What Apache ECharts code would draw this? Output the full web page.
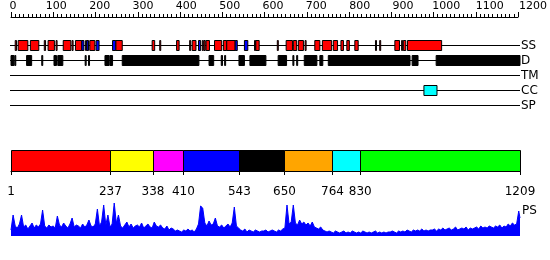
<!DOCTYPE html>
<html><head><meta charset="utf-8">
<script src="https://cdn.jsdelivr.net/npm/echarts@6/dist/echarts.min.js"></script>
<style>html,body{margin:0;padding:0;background:#fff}#c{width:550px;height:260px}</style>
</head><body><div id="c"></div>
<script>
// ---------- data ----------
const seqLength = 1209;
const rulerMax = 1200;
const trackNames = ['SS', 'D', 'TM', 'CC', 'SP'];
// secondary structure: [start, end, type]  H = helix, E = strand
const ssElements = [
  [11,14,'H'],[18,41,'H'],[47,67,'H'],[80,83,'H'],[89,104,'H'],[108,110,'H'],[125,143,'H'],[146,148,'H'],
  [154,169,'H'],[169,174,'E'],[178,180,'H'],[181,185,'E'],[188,200,'H'],[203,210,'E'],[242,250,'E'],[250,265,'H'],
  [336,342,'H'],[354,356,'H'],[394,400,'H'],[425,427,'H'],[431,440,'H'],[446,451,'E'],[455,457,'H'],[459,462,'H'],
  [464,472,'H'],[484,501,'H'],[505,513,'H'],[513,533,'H'],[533,538,'E'],[555,563,'E'],[579,581,'H'],[582,590,'H'],
  [633,635,'H'],[654,669,'H'],[671,679,'H'],[683,695,'H'],[699,701,'H'],[722,734,'H'],[740,762,'H'],[766,776,'H'],
  [784,790,'H'],[798,804,'H'],[817,825,'H'],[866,868,'H'],[876,878,'H'],[912,923,'H'],[928,930,'H'],[932,938,'H'],
  [942,1023,'H']
];
// disordered regions
const disorderRegions = [
  [1,8],[10,12],[38,50],[74,76],[103,109],[112,124],[177,179],[185,187],[224,234],[236,242],[265,447],
  [471,482],[500,503],[508,510],[542,555],[568,606],[635,655],[670,672],[679,681],[697,727],[734,741],
  [754,948],[953,967],[1010,1209]
];
const tmRegions = [];
const ccRegions = [[981,1012]];
const spRegions = [];
// domain boundaries
const domainBounds = [1, 237, 338, 410, 543, 650, 764, 830, 1209];
// PS profile, sampled every 5 residues from residue 1 (last sample at residue 1209)
const psStart = 1, psStep = 5;
const psValues = [
  6,21,10,8,12,21,9,11,7,10,13,8,11,9,12,26,10,8,11,9,
  10,8,20,11,9,13,10,8,12,18,9,11,10,8,12,9,11,16,10,9,
  12,27,10,14,31,11,21,9,12,33,13,21,10,8,11,14,9,12,8,10,
  11,9,13,8,10,12,9,8,14,10,9,11,8,7,10,6,8,7,5,6,
  5,4,6,5,7,5,6,4,7,12,30,28,13,10,15,11,12,18,10,9,
  11,8,10,12,9,13,29,10,8,6,5,7,4,6,5,4,6,5,4,5,
  5,6,4,5,6,5,4,6,5,7,8,31,12,14,31,13,11,16,12,14,
  11,13,10,14,9,8,7,9,6,5,4,5,4,3,5,4,3,4,5,3,
  4,3,5,4,3,4,3,5,4,3,4,3,4,5,3,4,3,4,3,4,
  4,5,4,3,5,4,5,4,6,5,4,6,5,6,5,7,5,6,5,6,
  6,7,5,7,6,8,6,7,8,6,7,9,6,7,8,7,9,6,8,7,
  8,9,7,10,8,9,8,10,9,8,10,9,11,8,10,9,12,10,13,11,
  12,25,18
];
const psMax = 33;

// ---------- styles ----------
const FONT = 'DejaVu Sans';
const ssColors = { H: '#ff0000', E: '#0000ff' };
const domainColors = ['#ff0000','#ffff00','#ff00ff','#0000ff','#000000','#ffa500','#00ffff','#00ff00'];

const psData = psValues.map((v, i) => [Math.min(psStart + i * psStep, seqLength), v]);
const plain = v => String(v);

function boxRender(fillFn) {
  return function (params, api) {
    const a = api.coord([api.value(0), api.value(2)]);
    const b = api.coord([api.value(1), api.value(2)]);
    const h = 10;
    return {
      type: 'rect',
      shape: { x: a[0], y: a[1] - h / 2, width: Math.max(1, b[0] - a[0]), height: h },
      style: { fill: fillFn(params, api), stroke: '#000', lineWidth: 1 }
    };
  };
}

const chart = echarts.init(document.getElementById('c'), null, { renderer: 'canvas' });
chart.setOption({
  animation: false,
  textStyle: { fontFamily: FONT },
  grid: [
    { left: 11, right: 32, top: 16, height: 1 },          // 0 ruler ticks
    { left: 13, right: 17, top: 16, height: 1 },          // 1 ruler labels
    { left: 11, right: 30, top: 38, height: 75 },         // 2 tracks
    { left: 11, right: 30, top: 150, height: 21 },        // 3 domains
    { left: 11, right: 30, top: 203, height: 33 }         // 4 PS
  ],
  xAxis: [
    { gridIndex: 0, type: 'value', position: 'top', min: 0, max: rulerMax, interval: 100,
      axisLine: { show: true, lineStyle: { color: '#000', width: 1 } },
      axisTick: { show: true, length: 5, lineStyle: { color: '#000' } },
      minorTick: { show: true, splitNumber: 10, length: 3, lineStyle: { color: '#000' } },
      axisLabel: { show: false }, splitLine: { show: false } },
    { gridIndex: 1, type: 'value', position: 'top', min: 0, max: rulerMax, interval: 100,
      axisLine: { show: false }, axisTick: { show: false }, splitLine: { show: false },
      axisLabel: { show: true, color: '#000', fontSize: 11, margin: 4, fontFamily: FONT,
        formatter: plain, showMinLabel: true, showMaxLabel: true, hideOverlap: false } },
    { gridIndex: 2, type: 'value', min: 1, max: seqLength, show: false },
    { gridIndex: 3, type: 'value', min: 1, max: seqLength, position: 'bottom', offset: 10,
      axisLine: { show: true, lineStyle: { color: '#000', width: 1 } },
      axisTick: { show: true, customValues: domainBounds, length: 4, lineStyle: { color: '#000' } },
      axisLabel: { show: true, customValues: domainBounds, color: '#000', fontSize: 12, margin: 5,
        fontFamily: FONT, formatter: plain, hideOverlap: false },
      splitLine: { show: false } },
    { gridIndex: 4, type: 'value', min: 1, max: seqLength, show: false }
  ],
  yAxis: [
    { gridIndex: 0, type: 'value', show: false },
    { gridIndex: 1, type: 'value', show: false },
    { gridIndex: 2, type: 'category', data: trackNames, inverse: true, position: 'right',
      axisLine: { show: false }, axisTick: { show: false }, splitLine: { show: false },
      axisLabel: { show: true, interval: 0, color: '#000', fontSize: 12, margin: 1, fontFamily: FONT } },
    { gridIndex: 3, type: 'value', min: 0, max: 1, show: false },
    { gridIndex: 4, type: 'value', min: 0, max: psMax, show: false }
  ],
  graphic: [
    { type: 'text', left: 522, top: 205, style: { text: 'PS', fontSize: 12, fontFamily: FONT, fill: '#000' } }
  ],
  series: [
    // track baselines
    { type: 'custom', xAxisIndex: 2, yAxisIndex: 2,
      data: trackNames.map((n, i) => [1, seqLength, i]),
      encode: { x: [0, 1], y: 2 },
      renderItem: function (params, api) {
        const a = api.coord([api.value(0), api.value(2)]);
        const b = api.coord([api.value(1), api.value(2)]);
        return { type: 'line', shape: { x1: a[0] - 1, y1: a[1], x2: b[0], y2: b[1] },
          style: { stroke: '#000', lineWidth: 1 } };
      } },
    // secondary structure
    { type: 'custom', xAxisIndex: 2, yAxisIndex: 2,
      data: ssElements.map(e => [e[0], e[1], 0, e[2]]),
      encode: { x: [0, 1], y: 2 },
      renderItem: boxRender((p) => ssColors[ssElements[p.dataIndex][2]]) },
    // disorder
    { type: 'custom', xAxisIndex: 2, yAxisIndex: 2,
      data: disorderRegions.map(e => [e[0], e[1], 1]),
      encode: { x: [0, 1], y: 2 },
      renderItem: boxRender(() => '#000') },
    // TM
    { type: 'custom', xAxisIndex: 2, yAxisIndex: 2,
      data: tmRegions.map(e => [e[0], e[1], 2]),
      encode: { x: [0, 1], y: 2 },
      renderItem: boxRender(() => '#00aa00') },
    // coiled coil
    { type: 'custom', xAxisIndex: 2, yAxisIndex: 2,
      data: ccRegions.map(e => [e[0], e[1], 3]),
      encode: { x: [0, 1], y: 2 },
      renderItem: boxRender(() => '#00ffff') },
    // signal peptide
    { type: 'custom', xAxisIndex: 2, yAxisIndex: 2,
      data: spRegions.map(e => [e[0], e[1], 4]),
      encode: { x: [0, 1], y: 2 },
      renderItem: boxRender(() => '#888888') },
    // domains
    { type: 'custom', xAxisIndex: 3, yAxisIndex: 3,
      data: domainBounds.slice(0, -1).map((s, i) => [s, domainBounds[i + 1], 0, 1]),
      encode: { x: [0, 1], y: [2, 3] },
      renderItem: function (params, api) {
        const a = api.coord([api.value(0), api.value(3)]);
        const b = api.coord([api.value(1), api.value(2)]);
        return { type: 'rect',
          shape: { x: Math.round(a[0]) + 0.5, y: Math.round(a[1]) + 0.5,
                   width: Math.round(b[0]) - Math.round(a[0]), height: Math.round(b[1]) - Math.round(a[1]) },
          style: { fill: domainColors[params.dataIndex], stroke: '#000', lineWidth: 1 } };
      } },
    // PS profile
    { type: 'line', xAxisIndex: 4, yAxisIndex: 4, data: psData, symbol: 'none',
      lineStyle: { color: '#0000ff', width: 1 }, areaStyle: { color: '#0000ff', opacity: 1 },
      itemStyle: { color: '#0000ff' } }
  ]
});
</script>
</body></html>
